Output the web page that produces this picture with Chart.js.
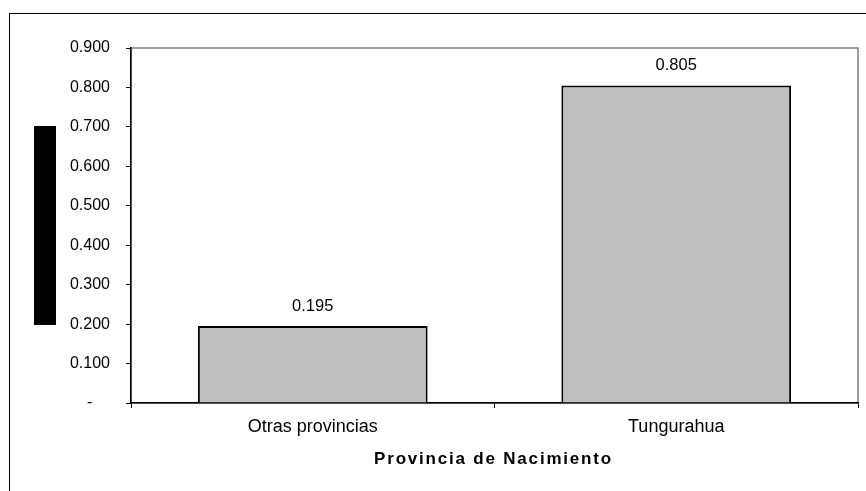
<!DOCTYPE html>
<html>
<head>
<meta charset="utf-8">
<script src="https://cdn.jsdelivr.net/npm/chart.js@4"></script>
<style>
    body { margin: 0; background: #fff; }
    #wrap { width: 866px; height: 491px; position: relative; }
</style>
</head>
<body>
<div id="wrap"><canvas id="chart"></canvas></div>
<script>
const categories = ['Otras provincias', 'Tungurahua'];
const values = [0.195, 0.805];
const yTickLabels = ['-', '0.100', '0.200', '0.300', '0.400', '0.500', '0.600', '0.700', '0.800', '0.900'];
const xTitle = 'Provincia de Nacimiento';

const FONT = '"Liberation Sans", Arial, sans-serif';

// marco exterior, borde gris del área y caja negra del título Y
const framePlugin = {
    id: 'frame',
    beforeDraw(chart) {
        const { ctx, chartArea: a } = chart;
        ctx.save();
        ctx.strokeStyle = '#000';
        ctx.lineWidth = 1;
        ctx.strokeRect(9.5, 13.5, 900, 520);
        ctx.strokeStyle = '#808080';
        ctx.lineWidth = 1.5;
        ctx.strokeRect(a.left, a.top, a.right - a.left, a.bottom - a.top);
        ctx.fillStyle = '#000';
        const mid = (a.top + a.bottom) / 2;
        ctx.fillRect(34, mid - 99.5, 22, 199);
        ctx.restore();
    },
    afterDatasetsDraw(chart) {
        const { ctx, chartArea: a } = chart;
        const meta = chart.getDatasetMeta(0);
        ctx.save();
        ctx.fillStyle = '#000';
        ctx.font = '16.5px ' + FONT;
        ctx.textAlign = 'center';
        ctx.textBaseline = 'middle';
        meta.data.forEach((bar, i) => {
            ctx.fillText(values[i].toFixed(3), bar.x, bar.y - 20);
        });
        // título del eje X
        ctx.font = 'bold 17px ' + FONT;
        ctx.letterSpacing = '1.8px';
        ctx.fillText(xTitle, (a.left + a.right) / 2 - 1, 459);
        ctx.restore();
    }
};

new Chart(document.getElementById('chart'), {
    type: 'bar',
    data: {
        labels: categories,
        datasets: [{
            data: values,
            backgroundColor: '#c0c0c0',
            borderColor: '#000',
            borderWidth: 2,
            barPercentage: 0.632,
            categoryPercentage: 1
        }]
    },
    options: {
        responsive: true,
        maintainAspectRatio: false,
        animation: false,
        layout: {
            padding: { left: 0, top: 48, right: 8, bottom: 0 }
        },
        plugins: {
            legend: { display: false },
            tooltip: { enabled: false }
        },
        scales: {
            x: {
                grid: {
                    drawOnChartArea: false,
                    tickLength: 5,
                    color: '#000',
                    offset: true
                },
                border: { color: '#000', width: 1.5 },
                ticks: {
                    color: '#000',
                    padding: 8,
                    font: { family: FONT, size: 18 }
                },
                afterFit(scale) { scale.height = 88; }
            },
            y: {
                min: 0,
                max: 0.9,
                grid: {
                    drawOnChartArea: false,
                    tickLength: 5,
                    color: '#000'
                },
                border: { color: '#000', width: 1.5 },
                ticks: {
                    stepSize: 0.1,
                    color: '#000',
                    padding: 16,
                    font: { family: FONT, size: 16 },
                    callback(v, i) {
                        const t = yTickLabels[i];
                        return t === '-' ? t + '\u00a0\u00a0\u00a0\u00a0' : t;
                    }
                },
                afterFit(scale) { scale.width = 131; }
            }
        }
    },
    plugins: [framePlugin]
});
</script>
</body>
</html>
